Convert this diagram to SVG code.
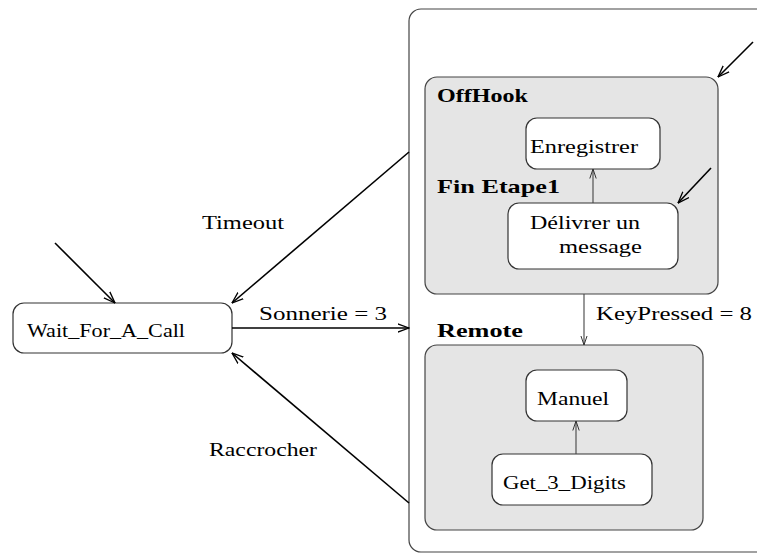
<svg xmlns="http://www.w3.org/2000/svg" width="757" height="554" viewBox="0 0 757 554">
<defs>
<marker id="arr" viewBox="0 0 12 10" refX="11.5" refY="5" markerWidth="12" markerHeight="10" markerUnits="userSpaceOnUse" orient="auto">
<path d="M0,0.8 L11.5,5 L0,9.2" fill="none" stroke="#000" stroke-width="1.3"/>
</marker>
<marker id="arrs" viewBox="0 0 10 8" refX="9.5" refY="4" markerWidth="10" markerHeight="8" markerUnits="userSpaceOnUse" orient="auto">
<path d="M0,0.8 L9.5,4 L0,7.2" fill="none" stroke="#333" stroke-width="1"/>
</marker>
<style>
text{font-family:"Liberation Serif","Times New Roman",serif;font-size:19px;fill:#000}
.b{font-weight:bold}
.st{fill:#fff;stroke:#333;stroke-width:1.2}
.cp{fill:#e5e5e5;stroke:#444;stroke-width:1.2}
.t{fill:none;stroke:#000;stroke-width:1.6}
.s{fill:none;stroke:#444;stroke-width:1.1}
</style>
</defs>
<g id="container"><rect x="409" y="9" width="420" height="543" rx="12" fill="#fff" stroke="#444" stroke-width="1.2"/></g>
<g id="wait"><rect class="st" x="13" y="303" width="219" height="50" rx="11"/><text x="27" y="337" textLength="158" lengthAdjust="spacingAndGlyphs">Wait_For_A_Call</text></g>
<g id="offhook"><rect class="cp" x="425" y="77" width="293" height="217" rx="12"/><text class="b" x="437" y="102" textLength="91" lengthAdjust="spacingAndGlyphs">OffHook</text><text class="b" x="437" y="193" textLength="123" lengthAdjust="spacingAndGlyphs">Fin Etape1</text></g>
<g id="enregistrer"><rect class="st" x="526" y="118" width="134" height="51" rx="11"/><text x="530" y="153" textLength="108" lengthAdjust="spacingAndGlyphs">Enregistrer</text></g>
<g id="delivrer"><rect class="st" x="508" y="203" width="170" height="66" rx="11"/><text x="530" y="229" textLength="110" lengthAdjust="spacingAndGlyphs">Délivrer un</text><text x="559" y="253" textLength="83" lengthAdjust="spacingAndGlyphs">message</text></g>
<g id="remote"><rect class="cp" x="425" y="345" width="278" height="185" rx="12"/><text class="b" x="437" y="337" textLength="86" lengthAdjust="spacingAndGlyphs">Remote</text></g>
<g id="manuel"><rect class="st" x="526" y="370" width="101" height="51" rx="11"/><text x="537" y="405" textLength="72" lengthAdjust="spacingAndGlyphs">Manuel</text></g>
<g id="get3"><rect class="st" x="492" y="454" width="160" height="51" rx="11"/><text x="503" y="489" textLength="123" lengthAdjust="spacingAndGlyphs">Get_3_Digits</text></g>
<g id="connectors">
<line class="t" x1="55" y1="243" x2="115" y2="303" marker-end="url(#arr)"/>
<line class="t" x1="409" y1="152" x2="232" y2="303" marker-end="url(#arr)"/>
<text x="202" y="229" textLength="82" lengthAdjust="spacingAndGlyphs">Timeout</text>
<line class="t" x1="232" y1="328" x2="409" y2="328" marker-end="url(#arr)"/>
<text x="259" y="320" textLength="128" lengthAdjust="spacingAndGlyphs">Sonnerie = 3</text>
<line class="t" x1="409" y1="503" x2="232" y2="353" marker-end="url(#arr)"/>
<text x="209" y="456" textLength="108" lengthAdjust="spacingAndGlyphs">Raccrocher</text>
<line class="t" x1="753" y1="42" x2="718" y2="77" marker-end="url(#arr)"/>
<line class="t" x1="711" y1="168" x2="678" y2="203" marker-end="url(#arr)"/>
<line class="s" x1="593" y1="203" x2="593" y2="169" marker-end="url(#arrs)"/>
<line class="s" x1="584" y1="294" x2="584" y2="345" marker-end="url(#arrs)"/>
<text x="596" y="320" textLength="156" lengthAdjust="spacingAndGlyphs">KeyPressed = 8</text>
<line class="s" x1="576" y1="454" x2="576" y2="421" marker-end="url(#arrs)"/>
</g>
</svg>
